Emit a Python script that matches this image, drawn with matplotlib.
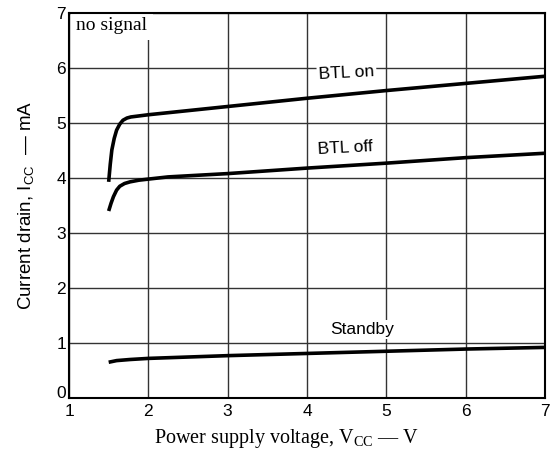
import matplotlib
matplotlib.use("Agg")
import matplotlib.pyplot as plt
import matplotlib.transforms as mtransforms

# Data
btl_on_x = [1.50, 1.52, 1.54, 1.57, 1.60, 1.64, 1.68, 1.73, 1.78, 2.0, 3, 4, 5, 6, 7]
btl_on_y = [3.93, 4.25, 4.51, 4.72, 4.87, 4.98, 5.05, 5.09, 5.11, 5.15, 5.30, 5.45, 5.59, 5.72, 5.85]
btl_off_x = [1.50, 1.53, 1.56, 1.60, 1.64, 1.70, 1.77, 1.88, 2.0, 2.25, 3, 4, 5, 6, 7]
btl_off_y = [3.40, 3.54, 3.66, 3.78, 3.85, 3.90, 3.93, 3.96, 3.98, 4.02, 4.08, 4.18, 4.27, 4.37, 4.45]
standby_x = [1.5, 1.6, 1.77, 2, 3, 4, 5, 6, 7]
standby_y = [0.65, 0.68, 0.70, 0.72, 0.77, 0.81, 0.85, 0.89, 0.92]
x_ticks = [1, 2, 3, 4, 5, 6, 7]
y_ticks = [0, 1, 2, 3, 4, 5, 6, 7]

plt.rcParams['mathtext.fontset'] = 'custom'
plt.rcParams['mathtext.rm'] = 'Liberation Serif'
plt.rcParams['mathtext.sf'] = 'Liberation Sans'

fig = plt.figure(figsize=(5.57, 4.50), dpi=100)
ax = fig.add_axes([69/557, 1 - 398/450, (545-69)/557, (398-13)/450])

ax.set_xlim(1, 7)
ax.set_ylim(0, 7)
ax.set_xticks(x_ticks)
ax.set_yticks(y_ticks)
ax.tick_params(length=0, labelsize=12.5)
ax.tick_params(axis='x', pad=4)
ax.tick_params(axis='y', pad=2)
for lab in ax.get_xticklabels() + ax.get_yticklabels():
    lab.set_family('Liberation Sans')
# nudge the "0" label up a little, as in the reference
ylabs = ax.get_yticklabels()
ylabs[0].set_transform(ylabs[0].get_transform() +
                       mtransforms.ScaledTranslation(0, 6/100, fig.dpi_scale_trans))

ax.grid(True, color='#333333', linewidth=1.0)
ax.set_axisbelow(True)
for s in ax.spines.values():
    s.set_linewidth(1.5)
    s.set_color('black')
    s.set_zorder(3)

lw = 2.6
ax.plot(btl_on_x, btl_on_y, color='black', linewidth=lw, solid_capstyle='butt')
ax.plot(btl_off_x, btl_off_y, color='black', linewidth=lw, solid_capstyle='butt')
ax.plot(standby_x, standby_y, color='black', linewidth=lw, solid_capstyle='butt')

box = dict(facecolor='white', edgecolor='none', pad=1.5)
ax.text(4.5, 5.9, 'BTL on', family='Liberation Sans', fontsize=12.5, ha='center', va='center', rotation=3, bbox=box)
ax.text(4.48, 4.55, 'BTL off', family='Liberation Sans', fontsize=12.5, ha='center', va='center', rotation=3, bbox=box)
ax.text(4.69, 1.24, 'Standby', family='Liberation Sans', fontsize=12.5, ha='center', va='center', bbox=box)
ax.text(1.09, 6.77, 'no signal', family='Liberation Serif', fontsize=14, ha='left', va='center', zorder=2,
        bbox=dict(facecolor='white', edgecolor='none', pad=4))

ax.set_xlabel(r'Power supply voltage, V$_{\mathrm{CC}}$ — V', family='Liberation Serif', fontsize=14.5)
ax.xaxis.set_label_coords(0.458, -0.104, transform=ax.transAxes)
ax.xaxis.label.set_va('center')
ax.set_ylabel(r'Current drain, I$_{\mathsf{CC}}$  — mA', family='Liberation Sans', fontsize=13.5, labelpad=14)

fig.savefig('out.png', dpi=100)
